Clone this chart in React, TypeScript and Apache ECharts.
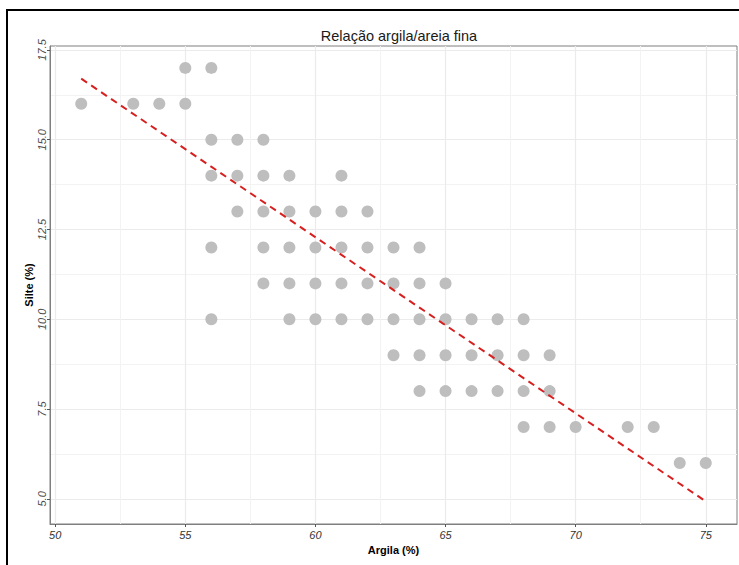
import React, { useEffect, useRef } from "react";
import * as echarts from "echarts";

// Scatter data: Argila (%) vs Silte (%)
const argila = [
  55, 56,
  51, 53, 54, 55,
  56, 57, 58,
  56, 57, 58, 59, 61,
  57, 58, 59, 60, 61, 62,
  56, 58, 59, 60, 61, 62, 63, 64,
  58, 59, 60, 61, 62, 63, 64, 65,
  56, 59, 60, 61, 62, 63, 64, 65, 66, 67, 68,
  63, 64, 65, 66, 67, 68, 69,
  64, 65, 66, 67, 68, 69,
  68, 69, 70, 72, 73,
  74, 75,
];
const silte = [
  17, 17,
  16, 16, 16, 16,
  15, 15, 15,
  14, 14, 14, 14, 14,
  13, 13, 13, 13, 13, 13,
  12, 12, 12, 12, 12, 12, 12, 12,
  11, 11, 11, 11, 11, 11, 11, 11,
  10, 10, 10, 10, 10, 10, 10, 10, 10, 10, 10,
  9, 9, 9, 9, 9, 9, 9,
  8, 8, 8, 8, 8, 8,
  7, 7, 7, 7, 7,
  6, 6,
];

// Fitted trend line
const trendX = [51, 75];
const trendY = [16.7, 4.93];

// Axis ticks
const xMajorTicks = [50, 55, 60, 65, 70, 75];
const xMinorTicks = [52.5, 57.5, 62.5, 67.5, 72.5];
const yMajorTicks = [5, 7.5, 10, 12.5, 15, 17.5];
const yMinorTicks = [6.25, 8.75, 11.25, 13.75, 16.25];

const X_MIN = 49.8;
const X_MAX = 76.2;
const Y_MIN = 4.3;
const Y_MAX = 17.61;

export default function App() {
  const ref = useRef<HTMLDivElement>(null);

  useEffect(() => {
    if (!ref.current) return;
    const chart = echarts.init(ref.current, undefined, { renderer: "svg" });
    const font = "Liberation Sans, Arial, sans-serif";
    const majorGrid = { show: true, lineStyle: { color: "#ebebeb", width: 1.2 } };
    const minorGrid = { show: true, lineStyle: { color: "#f3f3f3", width: 1 } };

    const hiddenAxisParts = {
      axisLine: { show: false },
      axisTick: { show: false },
      axisLabel: { show: false },
    };

    chart.setOption({
      animation: false,
      backgroundColor: "#ffffff",
      title: {
        text: "Relação argila/areia fina",
        left: 394,
        top: 23,
        textAlign: "center",
        textStyle: { fontFamily: font, fontSize: 14.5, fontWeight: "normal", color: "#1a1a1a" },
      },
      grid: {
        left: 50,
        top: 46,
        right: 2,
        bottom: 41,
        show: true,
        borderColor: "#7f7f7f",
        borderWidth: 1,
        backgroundColor: "transparent",
      },
      graphic: [
        {
          type: "rect",
          shape: { x: 7, y: 10, width: 800, height: 700 },
          style: { fill: "none", stroke: "#000000", lineWidth: 2 },
          silent: true,
          z: 100,
        },
      ],
      xAxis: [
        {
          type: "value",
          min: X_MIN,
          max: X_MAX,
          name: "Argila (%)",
          nameLocation: "middle",
          nameGap: 20,
          nameMoveOverlap: false,
          nameTextStyle: { fontFamily: font, fontSize: 11, fontWeight: "bold", color: "#000" },
          axisLine: { show: true, onZero: false, lineStyle: { color: "#7f7f7f", width: 1 } },
          axisTick: { show: true, length: 3, customValues: xMajorTicks, lineStyle: { color: "#555" } },
          axisLabel: {
            customValues: xMajorTicks,
            margin: 5,
            fontFamily: font,
            fontSize: 11,
            fontStyle: "italic",
            color: "#333",
            formatter: (v: number) => String(v),
          },
          splitLine: majorGrid,
        },
        {
          type: "value",
          min: X_MIN,
          max: X_MAX,
          ...hiddenAxisParts,
          axisTick: { show: false, customValues: xMinorTicks },
          splitLine: minorGrid,
        },
      ],
      yAxis: [
        {
          type: "value",
          min: Y_MIN,
          max: Y_MAX,
          name: "Silte (%)",
          nameLocation: "middle",
          nameGap: 16,
          nameMoveOverlap: false,
          nameRotate: 90,
          nameTextStyle: { fontFamily: font, fontSize: 11, fontWeight: "bold", color: "#000" },
          axisLine: { show: true, onZero: false, lineStyle: { color: "#7f7f7f", width: 1 } },
          axisTick: { show: true, length: 3, customValues: yMajorTicks, lineStyle: { color: "#555" } },
          axisLabel: {
            customValues: yMajorTicks,
            rotate: 90,
            margin: 3,
            fontFamily: font,
            fontSize: 11,
            fontStyle: "italic",
            color: "#4d4d4d",
            formatter: (v: number) => v.toFixed(1),
          },
          splitLine: majorGrid,
        },
        {
          type: "value",
          min: Y_MIN,
          max: Y_MAX,
          ...hiddenAxisParts,
          axisTick: { show: false, customValues: yMinorTicks },
          splitLine: minorGrid,
        },
      ],
      series: [
        {
          type: "scatter",
          xAxisIndex: 0,
          yAxisIndex: 0,
          symbolSize: 12,
          itemStyle: { color: "#bebebe", opacity: 1 },
          data: argila.map((x, i) => [x, silte[i]]),
          z: 2,
        },
        {
          type: "line",
          xAxisIndex: 0,
          yAxisIndex: 0,
          symbol: "none",
          lineStyle: { color: "#d62020", width: 2, type: [7, 5] },
          data: trendX.map((x, i) => [x, trendY[i]]),
          z: 3,
        },
      ],
    });
    return () => chart.dispose();
  }, []);

  return (
    <div
      ref={ref}
      style={{ position: "fixed", left: 0, top: 0, width: 739, height: 565, background: "#fff" }}
    />
  );
}
